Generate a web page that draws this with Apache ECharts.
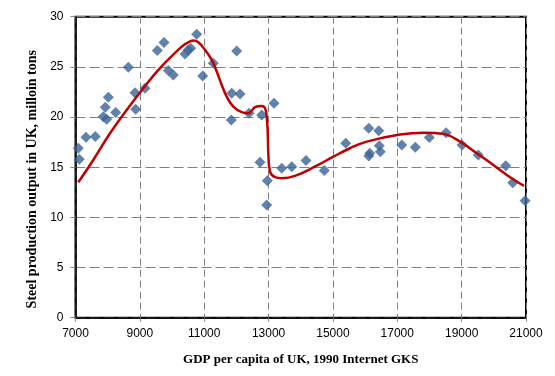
<!DOCTYPE html>
<html>
<head>
<meta charset="utf-8">
<script src="https://cdn.jsdelivr.net/npm/echarts@6/dist/echarts.min.js"></script>
<style>
html,body{margin:0;padding:0;background:#fff;}
#main{width:555px;height:376px;}
</style>
</head>
<body>
<div id="main"></div>
<script>
// observed data: GDP per capita vs steel output
var gdp = [7087,7118,7326,7615,8019,7926,7864,7970,8249,8641,8849,8871,9160,9542,9751,9884,10040,10403,10506,10580,10767,10953,11283,12010,11855,12113,11842,12392,12787,13169,12734,12961,12942,13409,13720,14164,14733,15398,16113,16424,16442,16473,16144,16113,17138,17561,17996,18515,19013,19519,20371,20588,20971];
var steel = [16.89,15.79,17.99,18.05,21.97,20.98,20.04,19.78,20.44,24.97,22.43,20.78,22.87,26.62,27.42,24.63,24.2,26.29,26.69,26.86,28.26,24.1,25.36,26.59,22.37,22.3,19.71,20.38,20.21,21.38,15.49,13.66,11.24,14.9,15.05,15.67,14.66,17.39,18.88,18.64,17.15,16.55,16.39,16.12,17.22,16.99,17.95,18.44,17.22,16.22,15.15,13.46,11.66];

// fitted curve
var fitX = [7087,7553,8072,8591,9107,9626,10248,10456,10661,10817,11025,11233,11389,11544,11699,11904,12166,12371,12579,12787,12890,12942,12974,12992,13045,13200,13409,13822,14496,15013,15531,16050,17085,17810,18432,18950,19469,19985,20402,20940];
var fitY = [13.5,15.72,18.38,20.71,22.87,24.87,26.86,27.36,27.62,27.46,26.69,25.69,24.53,23.2,22.03,21.04,20.48,20.38,20.98,21.11,20.88,20.04,18.38,16.39,14.56,14.0,13.9,14.13,15.15,16.05,16.89,17.55,18.25,18.44,18.32,17.55,16.39,15.22,14.23,13.13];

var xTicks = [7000,9000,11000,13000,15000,17000,19000,21000];
var yTicks = [0,5,10,15,20,25,30];

var pts = gdp.map(function(v, i){ return [v, steel[i]]; });
var fit = fitX.map(function(v, i){ return [v, fitY[i]]; });

var myChart = echarts.init(document.getElementById('main'));
myChart.setOption({
    animation: false,
    grid: {
        left: 75.5,
        right: 29,
        top: 16.7,
        bottom: 58.3,
        show: true,
        borderColor: '#000',
        borderWidth: 2
    },
    xAxis: {
        type: 'value',
        min: xTicks[0],
        max: xTicks[xTicks.length - 1],
        interval: 2000,
        name: 'GDP per capita of UK, 1990 Internet GKS',
        nameLocation: 'middle',
        nameGap: 35,
        nameTextStyle: {fontFamily: 'Liberation Serif', fontWeight: 'bold', fontSize: 13, color: '#000'},
        axisLine: {show: true, lineStyle: {color: '#000', width: 1.5}},
        axisTick: {show: true, length: 4, lineStyle: {color: '#888'}},
        axisLabel: {fontFamily: 'Liberation Sans', fontSize: 12, color: '#000', margin: 10,
            formatter: function(v){ return String(v); }},
        splitLine: {show: true, lineStyle: {color: '#808080', type: [7, 4], width: 1}}
    },
    yAxis: {
        type: 'value',
        min: yTicks[0],
        max: yTicks[yTicks.length - 1],
        interval: 5,
        name: 'Steel production output in UK, milloin tons',
        nameLocation: 'middle',
        nameGap: 30,
        nameTextStyle: {fontFamily: 'Liberation Serif', fontWeight: 'bold', fontSize: 14, color: '#000',
            padding: [0, 24, 0, 0]},
        axisLine: {show: true, lineStyle: {color: '#000', width: 1.5}},
        axisTick: {show: true, length: 5, lineStyle: {color: '#888'}},
        axisLabel: {fontFamily: 'Liberation Sans', fontSize: 12, color: '#000', margin: 12},
        splitLine: {show: true, lineStyle: {color: '#808080', type: [10, 4], width: 1}}
    },
    series: [{
        type: 'scatter',
        data: pts,
        symbol: 'diamond',
        symbolSize: 11,
        itemStyle: {color: '#3A6496'},
        z: 2
    }, {
        type: 'line',
        data: fit,
        smooth: 0.4,
        showSymbol: false,
        lineStyle: {color: '#C00000', width: 2.5},
        z: 3
    }]
});
</script>
</body>
</html>
